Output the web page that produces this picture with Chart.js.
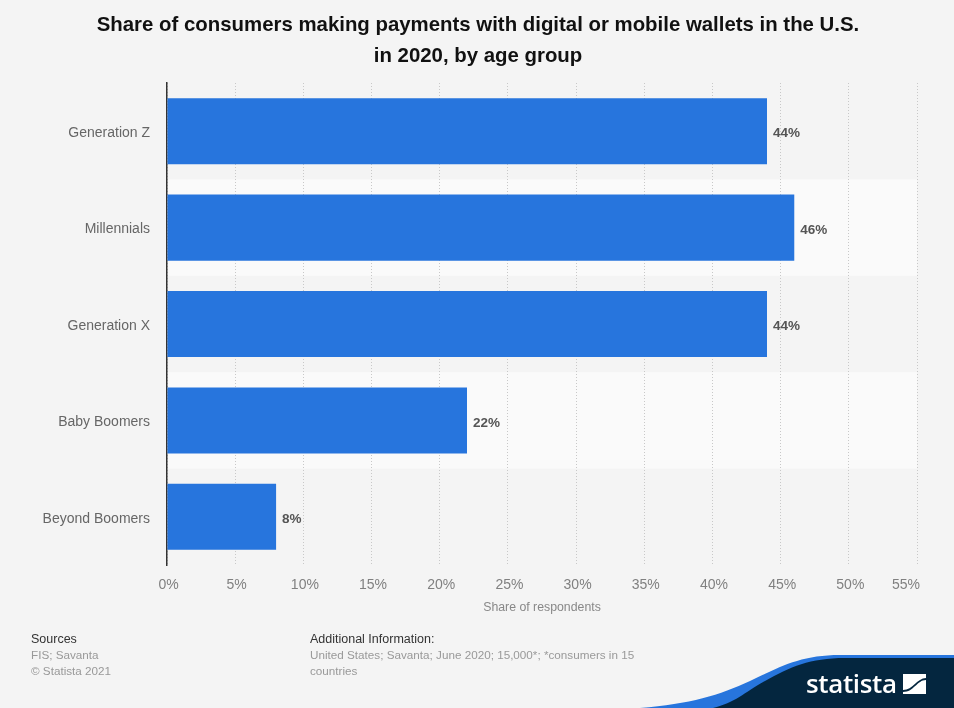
<!DOCTYPE html>
<html>
<head>
<meta charset="utf-8">
<title>Digital wallet use by age group</title>
<script src="https://cdn.jsdelivr.net/npm/chart.js@4/dist/chart.umd.min.js"></script>
<style>
    html, body { margin: 0; padding: 0; background: #f4f4f4; }
    #wrap { position: relative; width: 954px; height: 708px; overflow: hidden; font-family: "Liberation Sans", sans-serif; }
    .foot { position: absolute; font-size: 11.7px; line-height: 15.5px; color: #999; }
    .foot b { display: block; font-weight: normal; font-size: 12.5px; color: #333; line-height: 15px; }
    #logo { position: absolute; left: 0; top: 0; }
</style>
</head>
<body>
<div id="wrap">
    <canvas id="walletChart" width="954" height="708"></canvas>
    <div class="foot" style="left:31px; top:632px;"><b>Sources</b>FIS; Savanta<br>© Statista 2021</div>
    <div class="foot" style="left:310px; top:632px; width:340px;"><b>Additional Information:</b>United States; Savanta; June 2020; 15,000*; *consumers in 15 countries</div>
    <svg id="logo" width="954" height="708">
        <path d="M640 708 C690 704 720 695 750 681 C780 667 800 655 840 655 L954 655 L954 708 Z" fill="#2775dd"/>
        <path d="M713 708 C735 703 745 692 765 681 C790 667 810 658 845 658 L954 658 L954 708 Z" fill="#04263f"/>
        <text x="806" y="693" font-family="Open Sans" font-weight="600" font-size="26" fill="#fff" textLength="91">statista</text>
        <path d="M903 674 H926 V678 C917 678 913 690 903 690 Z M926 694 H903 V692 C914 692 917 680 926 680 Z" fill="#fff"/>
    </svg>
</div>
<script>
const categories = ['Generation Z', 'Millennials', 'Generation X', 'Baby Boomers', 'Beyond Boomers'];
const shareValues = [44, 46, 44, 22, 8];
const axisMax = 55;
const axisStep = 5;

const FONT = '"Liberation Sans", sans-serif';

// alternating row stripes behind the grid
const rowBands = {
    id: 'rowBands',
    beforeDraw(chart) {
        const { ctx, chartArea, scales } = chart;
        const rowH = chartArea.height / categories.length;
        ctx.save();
        ctx.fillStyle = '#fafafa';
        categories.forEach((c, i) => {
            if (i % 2 === 1) {
                ctx.fillRect(chartArea.left, scales.y.getPixelForValue(i) - rowH / 2, chartArea.width, rowH);
            }
        });
        ctx.restore();
    }
};

// value labels at the bar ends, and the last x tick which sits flush right
const barLabels = {
    id: 'barLabels',
    afterDraw(chart) {
        const { ctx, scales, chartArea } = chart;
        ctx.save();
        ctx.font = 'bold 13.5px ' + FONT;
        ctx.fillStyle = '#555';
        ctx.textAlign = 'left';
        ctx.textBaseline = 'middle';
        shareValues.forEach((v, i) => {
            ctx.fillText(v + '%', scales.x.getPixelForValue(v) + 6, scales.y.getPixelForValue(i) + 2.5);
        });
        ctx.font = '14px ' + FONT;
        ctx.fillStyle = '#808080';
        ctx.textAlign = 'right';
        ctx.fillText(axisMax + '%', scales.x.getPixelForValue(axisMax) + 3, chartArea.bottom + 20.5);
        ctx.restore();
    }
};

new Chart(document.getElementById('walletChart').getContext('2d'), {
    type: 'bar',
    data: {
        labels: categories,
        datasets: [{
            data: shareValues,
            backgroundColor: '#2775dd',
            barPercentage: 0.685,
            categoryPercentage: 1
        }]
    },
    plugins: [rowBands, barLabels],
    options: {
        indexAxis: 'y',
        responsive: false,
        animation: false,
        // left and right padding balance so the title centres on the page
        layout: { padding: { left: 39, right: 37, top: 0, bottom: 93 } },
        plugins: {
            legend: { display: false },
            tooltip: { enabled: false },
            title: {
                display: true,
                text: ['Share of consumers making payments with digital or mobile wallets in the U.S.', 'in 2020, by age group'],
                color: '#111',
                font: { family: FONT, size: 20.4, weight: 'bold', lineHeight: 1.52 },
                padding: { top: 10, bottom: 11 }
            }
        },
        scales: {
            x: {
                min: 0,
                max: axisMax,
                ticks: {
                    stepSize: axisStep,
                    maxRotation: 0,
                    autoSkip: false,
                    color: '#808080',
                    font: { family: FONT, size: 14 },
                    padding: 12,
                    labelOffset: 1.5,
                    callback: v => (v === axisMax ? '' : v + '%')
                },
                grid: { color: '#c8c8c8', lineWidth: 1, drawTicks: false },
                border: { display: false, dash: [1, 2] },
                title: {
                    display: true,
                    text: 'Share of respondents',
                    color: '#888',
                    font: { family: FONT, size: 12.3 },
                    padding: { top: 4, bottom: 0 }
                },
                afterFit(scale) { scale.height = 50; }
            },
            y: {
                ticks: {
                    color: '#666',
                    font: { family: FONT, size: 14 },
                    padding: 17,
                    labelOffset: 2
                },
                grid: { display: false, drawTicks: false },
                border: { display: true, color: '#333', width: 1.5 },
                afterFit(scale) { scale.width = 128; }
            }
        }
    }
});
</script>
</body>
</html>
